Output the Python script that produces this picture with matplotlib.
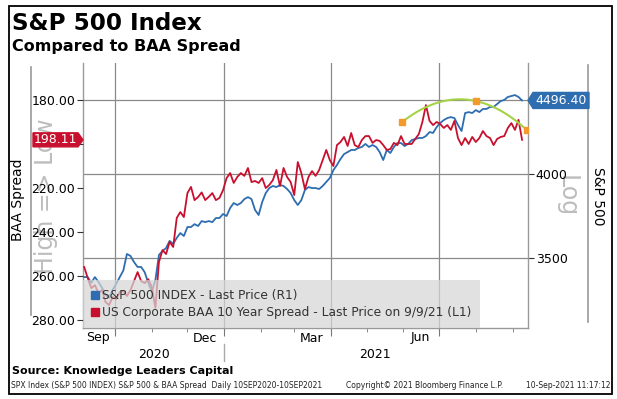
import matplotlib
matplotlib.use('Agg')
import matplotlib.pyplot as plt
import matplotlib.dates as mdates
import matplotlib.transforms as mtransforms
from matplotlib.lines import Line2D
from matplotlib.patches import Polygon, Rectangle
import matplotlib.ticker as mticker
import numpy as np
import pandas as pd

# ---------------- data ----------------
start_date = '2020-09-05'
step = '3D'

spx = [3396, 3396, 3365, 3396, 3370, 3339, 3301, 3286, 3328, 3360,
       3396, 3432, 3523, 3512, 3478, 3451, 3451, 3422, 3365, 3317,
       3380, 3517, 3540, 3556, 3597, 3580, 3614, 3642, 3625, 3677,
       3677, 3694, 3683, 3712, 3706, 3712, 3706, 3730, 3730, 3754,
       3742, 3790, 3820, 3808, 3820, 3844, 3856, 3844, 3778, 3748,
       3826, 3881, 3912, 3925, 3918, 3931, 3925, 3906, 3881, 3838,
       3808, 3838, 3900, 3918, 3912, 3912, 3906, 3925, 3950, 3975,
       4025, 4058, 4097, 4129, 4142, 4156, 4156, 4169, 4176, 4196,
       4176, 4189, 4176, 4142, 4090, 4156, 4136, 4176, 4202, 4202,
       4182, 4196, 4222, 4229, 4236, 4236, 4249, 4276, 4270, 4310,
       4338, 4358, 4372, 4379, 4372, 4324, 4283, 4407, 4414, 4407,
       4428, 4414, 4436, 4436, 4450, 4450, 4471, 4492, 4500, 4521,
       4528, 4535, 4521, 4496.40]

baa = [255.9, 260.9, 265.5, 264.1, 267.7, 266.4, 271.8, 273.2, 269.5, 270.5,
       267.3, 266.8, 269.1, 266.4, 262.3, 258.2, 262.3, 263.2, 261.4, 265.0,
       274.5, 253.6, 248.2, 250.0, 244.5, 246.8, 233.6, 230.9, 233.2, 222.3,
       219.5, 225.5, 224.1, 222.0, 225.5, 224.0, 222.3, 225.5, 224.5, 221.0,
       215.5, 213.2, 217.7, 215.0, 213.2, 214.5, 210.9, 217.3, 216.8, 217.7,
       215.5, 220.0, 218.6, 216.4, 211.8, 219.1, 210.9, 215.0, 217.3, 223.2,
       208.2, 213.2, 220.5, 215.0, 212.3, 214.5, 211.8, 207.3, 202.7, 207.3,
       210.0, 200.5, 199.1, 196.8, 200.9, 195.0, 200.5, 201.4, 198.2, 196.4,
       196.4, 199.5, 198.2, 198.6, 200.5, 202.7, 202.3, 199.5, 200.5, 196.4,
       200.0, 200.0, 200.0, 197.7, 195.5, 190.0, 182.3, 189.5, 191.4, 190.0,
       190.9, 192.7, 191.4, 193.6, 189.5, 197.3, 200.5, 197.3, 200.0, 196.8,
       199.1, 197.3, 194.1, 196.4, 197.3, 200.5, 197.7, 196.8, 196.4, 192.7,
       190.5, 193.6, 189.0, 198.11]

arc_dates = ['2021-05-31', '2021-08-01', '2021-09-13']
arc_values = [4345, 4492, 4290]

last_spx = 4496.40
last_baa = 198.11

spread_ticks = [180, 200, 220, 240, 260, 280]
spx_ticks = [3500, 4000, 4500]
month_labels = ['Sep', 'Dec', 'Mar', 'Jun']
month_label_dates = ['2020-09-17', '2020-12-16', '2021-03-16', '2021-06-15']
year_labels = ['2020', '2021']
year_label_dates = ['2020-11-03', '2021-05-08']
year_split = '2021-01-01'

legend_labels = ['S&P 500 INDEX - Last Price (R1)',
                 'US Corporate BAA 10 Year Spread - Last Price on 9/9/21 (L1)']

# ---------------- styling ----------------
BLUE = '#2E6DB0'
RED = '#C8102E'
GREEN = '#A6D248'
ORANGE = '#F39A2B'
GRID = '#8a8a8a'

W, H = 617, 399
plt.rcParams['font.family'] = ['DejaVu Sans']
fig = plt.figure(figsize=(W / 100, H / 100), dpi=100)

L, R, T, B = 83, 528, 63, 328
ax = fig.add_axes([L / W, 1 - B / H, (R - L) / W, (B - T) / H])
ax2 = ax.twinx()

dates = pd.date_range(start_date, periods=len(spx), freq=step)

# S&P on log axis (right)
ax.plot(dates, spx, color=BLUE, lw=1.3, zorder=3)
ax.set_yscale('log')
ax.set_ylim(3132, 4772)
ax.yaxis.tick_right()
ax.yaxis.set_major_locator(mticker.FixedLocator(spx_ticks))
ax.yaxis.set_minor_locator(mticker.NullLocator())
ax.yaxis.set_major_formatter(mticker.FuncFormatter(
    lambda v, p: '' if v == 4500 else f'{v:.0f}'))

# Spread (left, inverted)
ax2.plot(dates, baa, color=RED, lw=1.3, zorder=3)

# trend arc on the S&P scale, drawn above lines
xs = mdates.date2num(pd.to_datetime(arc_dates))
coef = np.polyfit(xs, np.log(arc_values), 2)
xx = np.linspace(xs[0], xs[-1], 120)
ax2.plot(xx, np.exp(np.polyval(coef, xx)), color=GREEN, lw=1.5,
         transform=ax.transData, zorder=4)
ax2.plot(xs, arc_values, 's', color=ORANGE, ms=4, transform=ax.transData,
         zorder=5)

ax2.set_ylim(283.6, 163.2)
ax2.yaxis.tick_left()
ax2.yaxis.set_major_locator(mticker.FixedLocator(spread_ticks))
ax2.yaxis.set_major_formatter(mticker.FuncFormatter(
    lambda v, p: '' if v == 200 else f'{v:.2f}'))

x0 = pd.Timestamp('2020-09-04')
x1 = pd.Timestamp('2021-09-14')
ax.set_xlim(x0, x1)
ax.xaxis.set_major_locator(mdates.MonthLocator(bymonth=[1, 4, 7, 10]))
ax.xaxis.set_minor_locator(mdates.MonthLocator())
ax.xaxis.set_major_formatter(mticker.NullFormatter())
ax.xaxis.set_minor_formatter(mticker.NullFormatter())

ax.grid(True, axis='both', which='major', color=GRID, lw=0.9)
ax.set_axisbelow(True)

for a in (ax, ax2):
    for s in a.spines.values():
        s.set_visible(False)
for s in ('left', 'right', 'bottom'):
    ax.spines[s].set_visible(True)
    ax.spines[s].set_color('#9a9a9a')
    ax.spines[s].set_linewidth(1.0)

ax.tick_params(axis='x', which='major', length=6, color='#777777', direction='out')
ax.tick_params(axis='x', which='minor', length=3, color='#777777', direction='out')
ax.tick_params(axis='y', which='major', length=4, color='#333333', labelsize=9,
               pad=1.5)
ax2.tick_params(axis='y', which='major', length=4, color='#333333', labelsize=9,
                pad=1.5)

# month / year labels
tr_mx = mtransforms.blended_transform_factory(ax.transData, fig.transFigure)
for lab, d in zip(month_labels, month_label_dates):
    ax.text(pd.Timestamp(d), 1 - 338 / H, lab, transform=tr_mx, ha='center',
            va='center', fontsize=9)
for lab, d in zip(year_labels, year_label_dates):
    ax.text(pd.Timestamp(d), 1 - 354 / H, lab, transform=tr_mx, ha='center',
            va='center', fontsize=9)
xs_split = mdates.date2num(pd.Timestamp(year_split))
fig.add_artist(Line2D([xs_split, xs_split], [1 - 344 / H, 1 - 361 / H],
                      transform=tr_mx, color='#aaaaaa', lw=1.0))

# legend
handles = [Line2D([], [], marker='s', ls='', color=BLUE, ms=6),
           Line2D([], [], marker='s', ls='', color=RED, ms=6)]
leg = ax2.legend(handles, legend_labels, loc='lower left',
                 bbox_to_anchor=(0, 0), fontsize=8.8, frameon=True,
                 fancybox=False, handlelength=0.55, handletextpad=0.27,
                 borderpad=0.72, labelspacing=0.33, borderaxespad=0.0)
leg.get_frame().set_facecolor('#d6d6d6')
leg.get_frame().set_alpha(0.72)
leg.get_frame().set_edgecolor('none')
for t in leg.get_texts():
    t.set_color('#333333')
leg.set_zorder(10)

# value tags
ident = mtransforms.IdentityTransform()
y_red = ax2.transData.transform((mdates.date2num(x0), last_baa))[1]
y_blue = ax.transData.transform((mdates.date2num(x0), last_spx))[1]

hr = 7
fig.add_artist(Polygon([(L, y_red), (L - 5, y_red + hr), (33, y_red + hr),
                        (33, y_red - hr), (L - 5, y_red - hr)],
                       closed=True, fc=RED, ec=RED, transform=ident, zorder=20))
fig.text((33 + L - 5) / 2 / W, y_red / H, f'{last_baa:.2f}', color='white',
         fontsize=9, ha='center', va='center', zorder=21)
hb = 8
fig.add_artist(Polygon([(R, y_blue), (R + 5, y_blue + hb), (589, y_blue + hb),
                        (589, y_blue - hb), (R + 5, y_blue - hb)],
                       closed=True, fc=BLUE, ec=BLUE, transform=ident, zorder=20))
fig.text((R + 5 + 589) / 2 / W, y_blue / H, f'{last_spx:.2f}', color='white',
         fontsize=9, ha='center', va='center', zorder=21)

# axis titles
fig.text(18 / W, 1 - 200 / H, 'BAA Spread', rotation=90, fontsize=10,
         ha='center', va='center')
fig.text(46 / W, 1 - 196 / H, 'High => Low', rotation=90, fontsize=17,
         color='#bdbdbd', ha='center', va='center', zorder=-1)
fig.text(598 / W, 1 - 196 / H, 'S&P 500', rotation=-90, fontsize=10,
         ha='center', va='center')
fig.text(567 / W, 1 - 196 / H, 'Log', rotation=-90, fontsize=17,
         color='#bdbdbd', ha='center', va='center', zorder=-1)

# panel side lines
fig.add_artist(Line2D([31 / W, 31 / W], [1 - 67 / H, 1 - 315 / H],
                      color='#9a9a9a', lw=1.2))
fig.add_artist(Line2D([588 / W, 588 / W], [1 - 65 / H, 1 - 322 / H],
                      color='#9a9a9a', lw=1.2))

# titles and footer
fig.text(12 / W, 1 - 24 / H, 'S&P 500 Index', fontsize=16.6, fontweight='bold',
         ha='left', va='center')
fig.text(12 / W, 1 - 47 / H, 'Compared to BAA Spread', fontsize=11.5,
         fontweight='bold', ha='left', va='center')
fig.text(12 / W, 1 - 371 / H, 'Source: Knowledge Leaders Capital', fontsize=8,
         fontweight='bold', ha='left', va='center')
fig.text(11 / W, 1 - 386 / H,
         'SPX Index (S&P 500 INDEX) S&P 500 & BAA Spread  Daily 10SEP2020-10SEP2021',
         fontsize=5.5, ha='left', va='center', color='#222222')
fig.text(346 / W, 1 - 386 / H, 'Copyright\u00a9 2021 Bloomberg Finance L.P.',
         fontsize=5.5, ha='left', va='center', color='#222222')
fig.text(610 / W, 1 - 386 / H, '10-Sep-2021 11:17:12', fontsize=5.5,
         ha='right', va='center', color='#222222')

# outer border
fig.add_artist(Rectangle((9 / W, 1 - 394 / H), 603 / W, 388 / H, fill=False,
                         ec='black', lw=1.3, transform=fig.transFigure))

fig.savefig('out.png', dpi=100)
